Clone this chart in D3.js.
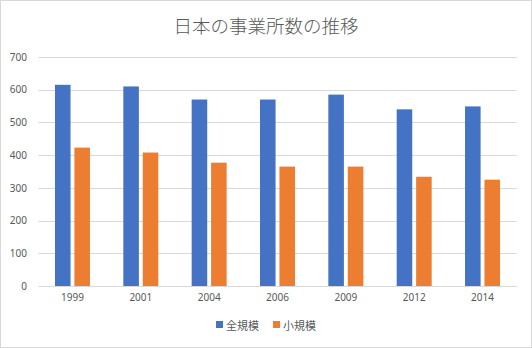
<!DOCTYPE html>
<html><head><meta charset="utf-8">
<script src="https://cdn.jsdelivr.net/npm/d3@7"></script>
<style>
html,body{margin:0;padding:0;background:#fff;}
svg{display:block;font-family:"Noto Sans CJK JP","Noto Sans",sans-serif;}
</style></head>
<body>
<svg id="c" width="532" height="348"></svg>
<script>
const years = ["1999","2001","2004","2006","2009","2012","2014"];
const allScale = [615, 610, 570, 570, 585, 540, 549];
const smallScale = [423, 408, 377, 365, 365, 334, 325];
const seriesNames = ["全規模", "小規模"];
const colors = ["#4472C4", "#ED7D31"];
const yTicks = [0, 100, 200, 300, 400, 500, 600, 700];
const title = "日本の事業所数の推移";

(function(){
const svg = d3.select("#c");
const W = 532, H = 348;
svg.append("rect").attr("x",0.5).attr("y",0.5).attr("width",W-1).attr("height",H-1)
  .attr("fill","#fff").attr("stroke","#d9d9d9");

const pL = 38.3, pR = 516.7, pT = 57, pB = 286;
const y = d3.scaleLinear().domain([0,700]).range([pB, pT]);
const x = d3.scaleBand().domain(years).range([pL, pR]).paddingInner(0.488).paddingOuter(0.244);
const xs = d3.scaleBand().domain([0,1]).range([0, x.bandwidth()]).paddingInner(0.2);

svg.append("g").selectAll("line").data(yTicks).join("line")
  .attr("x1", pL).attr("x2", pR)
  .attr("y1", d => Math.round(y(d))+0.5).attr("y2", d => Math.round(y(d))+0.5)
  .attr("stroke", "#d9d9d9").attr("stroke-width", 1);

const yAxis = d3.axisLeft(y).tickValues(yTicks).tickSize(0).tickPadding(0);
const gy = svg.append("g").attr("transform", `translate(27,0)`).call(yAxis);
gy.select(".domain").remove();
gy.selectAll("text").attr("fill","#595959").style("font-size","10px")
  .style("font-family","'Noto Sans','DejaVu Sans',sans-serif");

const xAxis = d3.axisBottom(x).tickSize(0).tickPadding(0);
const gx = svg.append("g").attr("transform", `translate(0,${pB+8})`).call(xAxis);
gx.select(".domain").remove();
gx.selectAll("text").attr("fill","#595959").style("font-size","10px")
  .style("font-family","'Noto Sans','DejaVu Sans',sans-serif");

const series = [allScale, smallScale];
series.forEach((vals, si) => {
  svg.append("g").selectAll("rect").data(years).join("rect")
    .attr("x", d => x(d) + xs(si))
    .attr("width", xs.bandwidth())
    .attr("y", (d,i) => y(vals[i]))
    .attr("height", (d,i) => y(0) - y(vals[i]))
    .attr("fill", colors[si]);
});

svg.append("text").attr("x", 266).attr("y", 33).attr("text-anchor","middle")
  .attr("fill","#595959").style("font-size","18.5px").style("font-weight","300")
  .text(title);

const lg = svg.append("g");
const legX = [216, 273];
seriesNames.forEach((n, i) => {
  lg.append("rect").attr("x", legX[i]).attr("y", 321).attr("width", 7).attr("height", 7).attr("fill", colors[i]);
  lg.append("text").attr("x", legX[i] + 10).attr("y", 329.5).attr("fill","#595959")
    .style("font-size","11px").text(n);
});
})();
</script>
</body></html>
